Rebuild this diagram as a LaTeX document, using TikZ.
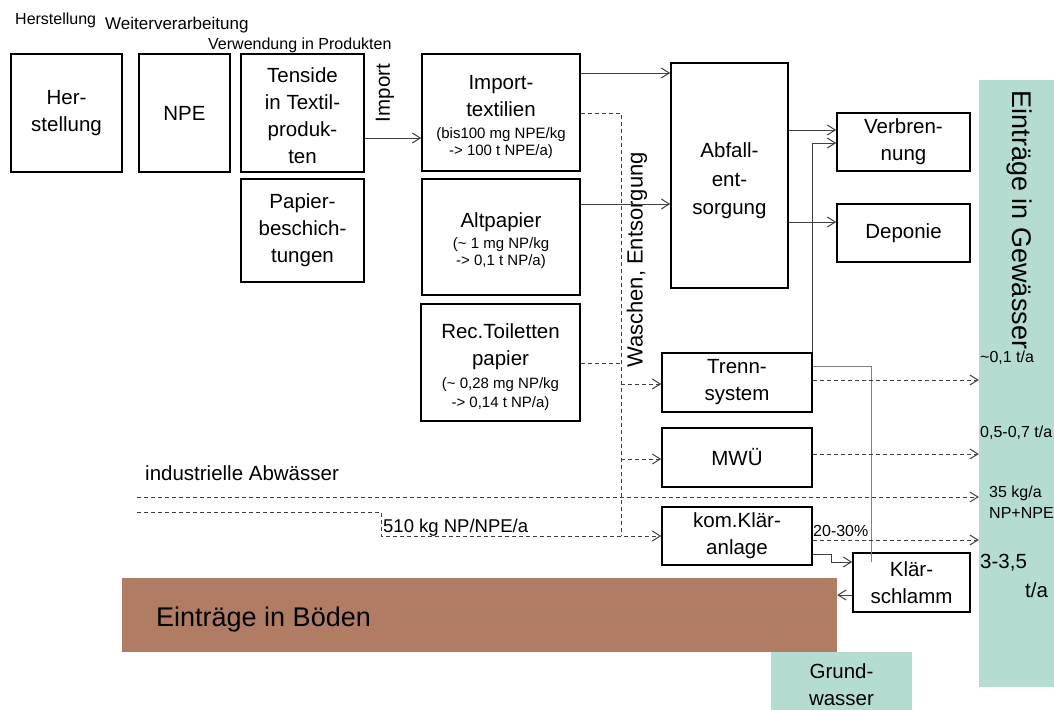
\documentclass[tikz,border=0pt]{standalone}
\usepackage{fontspec}
\setmainfont{Liberation Sans}
\usetikzlibrary{arrows.meta}
\definecolor{tealbg}{RGB}{180,220,211}
\definecolor{brownbg}{RGB}{176,124,100}
\definecolor{connc}{RGB}{64,64,64}
\newcommand\mainfnt{\fontsize{20.5}{27}\selectfont}
\newcommand\smallfnt{\fontsize{15}{17}\selectfont}
\newcommand\labfnt{\fontsize{16}{20}\selectfont}
\newcommand\bigfnt{\fontsize{27}{32}\selectfont}
\begin{document}
\begin{tikzpicture}[x=1pt,y=-1pt,
  box/.style={draw=black, line width=1.6pt, inner sep=0pt, align=center, font=\mainfnt},
  area/.style={inner sep=0pt, draw=none},
  conn/.style={-{Straight Barb[length=8pt,width=10pt]}},
  cline/.style={draw=connc, line width=1pt},
  dsh/.style={draw=connc, line width=1pt, dash pattern=on 4pt off 3pt},
  lbl/.style={inner sep=0pt, font=\labfnt},
  mlbl/.style={inner sep=0pt, font=\mainfnt}
]
\useasboundingbox (0,0) rectangle (1054,709);

% coloured areas
\node[area, fill=tealbg, minimum width=80pt, minimum height=607pt] (gew) at (1019,383.5) {};
\node[area, fill=brownbg, minimum width=715pt, minimum height=74pt] (bod) at (479.5,615) {};
\node[area, fill=tealbg, minimum width=141pt, minimum height=65pt, align=center, font=\mainfnt] (grund) at (841.5,684.5) {Grund-\\wasser};

% boxes
\node[box, minimum width=111pt, minimum height=118pt] (her) at (66.5,113) {Her-\\stellung};
\node[box, minimum width=91pt, minimum height=118pt] (npe) at (184.5,113) {NPE};
\node[box, minimum width=123pt, minimum height=118pt] (ten) at (302.5,113) {\rule{0pt}{20pt}Tenside\\in Textil-\\produk-\\ten};
\node[box, minimum width=123pt, minimum height=103pt] (pap) at (302.5,230.5) {Papier-\\beschich-\\tungen};
\node[box, minimum width=158pt, minimum height=117pt] (imp) at (501,112.5) {\rule{0pt}{23pt}Import-\\textilien\\[-5pt]\smallfnt (bis100 mg NPE/kg\\[-10.5pt]\smallfnt -> 100 t NPE/a)};
\node[box, minimum width=158pt, minimum height=116pt] (alt) at (501,237) {\rule{0pt}{23pt}Altpapier\\[-6pt]\smallfnt (\textasciitilde{} 1 mg NP/kg\\[-10pt]\smallfnt -> 0,1 t NP/a)};
\node[box, minimum width=159pt, minimum height=117pt] (rec) at (500.5,362.5) {\rule{0pt}{25pt}Rec.Toiletten\\papier\\[-4pt]\smallfnt (\textasciitilde{} 0,28 mg NP/kg\\[-8pt]\smallfnt -> 0,14 t NP/a)};
\node[box, minimum width=117pt, minimum height=225pt] (abf) at (729.5,175.5) {\rule{0pt}{25pt}Abfall-\\[2pt]ent-\\[1pt]sorgung};
\node[box, minimum width=133pt, minimum height=58pt] (verb) at (903.5,142) {Verbren-\\nung};
\node[box, minimum width=133pt, minimum height=58pt] (dep) at (903.5,233) {Deponie};
\node[box, minimum width=150pt, minimum height=59pt] (trenn) at (737,382.5) {Trenn-\\system};
\node[box, minimum width=150pt, minimum height=59pt] (mwu) at (737,457.5) {MWÜ};
\node[box, minimum width=150pt, minimum height=58pt] (kla) at (737,536) {kom.Klär-\\anlage};
\node[box, minimum width=117pt, minimum height=59pt] (kls) at (911.5,582.5) {Klär-\\schlamm};

% texts
\node[lbl, anchor=base west] (tH) at (15,25) {Herstellung};
\node[lbl, anchor=base west, font=\fontsize{17}{20}\selectfont] (tW) at (105,30) {Weiterverarbeitung};
\node[lbl, anchor=base west] (tV) at (208,49) {Verwendung in Produkten};
\node[mlbl, rotate=90] (timp) at (385,93) {Import};
\node[inner sep=0pt, font=\fontsize{22}{27}\selectfont, rotate=90] (twasch) at (637,260) {Waschen, Entsorgung};
\node[inner sep=0pt, font=\bigfnt, rotate=-90] (tgew) at (1019,220) {Einträge in Gewässer};
\node[inner sep=0pt, font=\bigfnt, anchor=base west] (tbod) at (156,626) {Einträge in Böden};
\node[mlbl, anchor=base west] (tind) at (145,480) {industrielle Abwässer};
\node[inner sep=0pt, font=\fontsize{18.5}{22}\selectfont, anchor=base west] (t510) at (383,532) {510 kg NP/NPE/a};
\node[lbl, anchor=base west] (t01) at (980,362) {\textasciitilde0,1 t/a};
\node[lbl, anchor=base west] (t05) at (980,437) {0,5-0,7 t/a};
\node[lbl, anchor=west, align=left, font=\fontsize{16}{21}\selectfont] (t35) at (989,502) {35 kg/a\\NP+NPE};
\node[lbl, anchor=base west] (t20) at (813,536) {20-30\%};
\node[mlbl, anchor=west, align=left] (t3) at (980,576) {3-3,5\\[2pt]\hspace*{45pt}t/a};

% solid connectors
\draw[cline, conn] (ten.east |- 0,138) -- (imp.west |- 0,138);
\draw[cline, conn] (imp.east |- 0,73) -- (abf.west |- 0,73);
\draw[cline, conn] (alt.east |- 0,204) -- (abf.west |- 0,204);
\draw[cline, conn] (abf.east |- 0,130) -- (verb.west |- 0,130);
\draw[cline, conn] (abf.east |- 0,222) -- (dep.west |- 0,222);
\draw[cline, conn] (trenn.north east) |- (verb.west |- 0,143);
\coordinate (tk) at (871,366);
\coordinate (tkend) at (871,562);
\draw[draw=gray, line width=1pt] (trenn.east |- tk) -- (tk) -- (tkend);
\draw[cline, conn] (kla.east |- 0,554) -- ++(19,0) |- (kls.west |- 0,562);
\draw[cline, conn] (kls.west |- 0,595) -- (bod.east |- 0,595);

% dashed connectors
\coordinate (wtop) at (621,113);
\coordinate (wbot) at (621,536);
\draw[dsh] (imp.east |- wtop) -- (wtop) -- (wbot);
\draw[dsh] (rec.east |- 0,363) -- (wtop |- 0,363);
\draw[dsh, conn] (wtop |- 0,384) -- (trenn.west |- 0,384);
\draw[dsh, conn] (wtop |- 0,459) -- (mwu.west |- 0,459);
\coordinate (ia) at (137,497);
\draw[dsh, conn] (ia) -- (gew.west |- ia);
\coordinate (ib) at (137,512);
\coordinate (ibk) at (381,512);
\draw[dsh, conn] (ib) -- (ibk) -- (ibk |- 0,536) -- (kla.west |- 0,536);
\draw[dsh, conn] (trenn.east |- 0,380) -- (gew.west |- 0,380);
\draw[dsh, conn] (mwu.east |- 0,454) -- (gew.west |- 0,454);
\draw[dsh, conn] (kla.east |- 0,540) -- (gew.west |- 0,540);
\end{tikzpicture}
\end{document}
